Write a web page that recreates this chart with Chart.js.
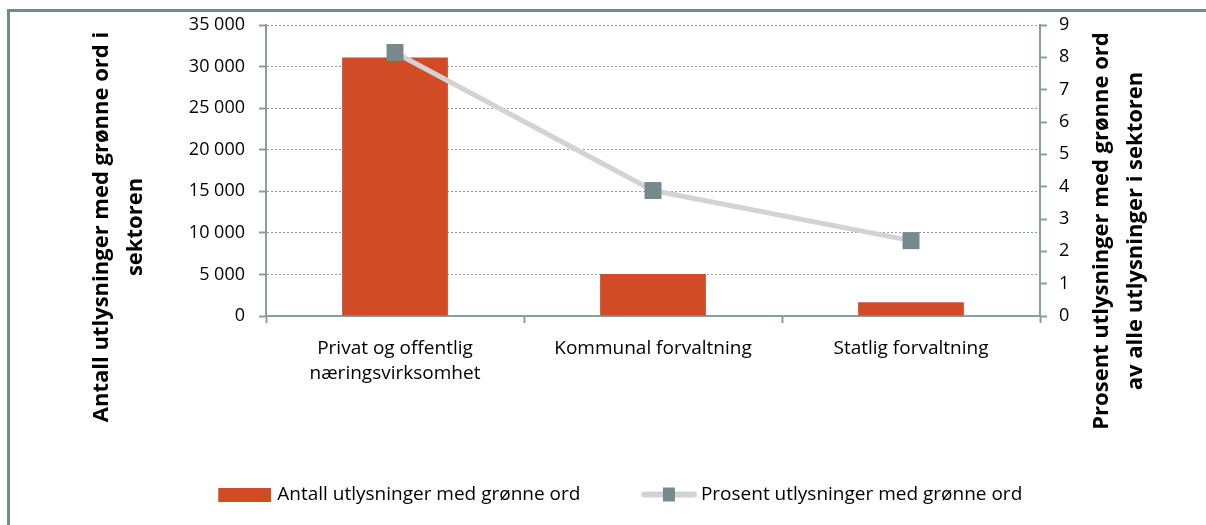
<!DOCTYPE html>
<html>
<head>
<meta charset="utf-8">
<script src="https://cdn.jsdelivr.net/npm/chart.js@4"></script>
<style>
  html, body { margin: 0; padding: 0; background: #fff; }
  #wrap { position: relative; width: 1206px; height: 525px; overflow: hidden; }
  #frame { position: absolute; left: 7px; top: 9px; width: 1300px; height: 700px;
           border: 3px solid #6f8b8f; pointer-events: none; }
</style>
</head>
<body>
<div id="wrap">
  <canvas id="myChart" width="1206" height="525"></canvas>
  <div id="frame"></div>
</div>
<script>
// Data
const categories = [['Privat og offentlig', 'næringsvirksomhet'], 'Kommunal forvaltning', 'Statlig forvaltning'];
const antall = [31100, 5050, 1650];
const prosent = [8.15, 3.88, 2.33];
const antallLabel = 'Antall utlysninger med grønne ord';
const prosentLabel = 'Prosent utlysninger med grønne ord';
const leftTitle = ['Antall utlysninger med grønne ord i', 'sektoren'];
const rightTitle = ['Prosent utlysninger med grønne ord', 'av alle utlysninger i sektoren'];

const FONT = '"Open Sans"';
const axisColor = '#8a9ea1';
const barColor = '#d24b27';
const lineColor = '#d3d3d3';
const markerColor = '#76898c';

// legend swatches (drawn as images so they look like the original)
const LEG_W = 100;
function barSwatch() {
    const c = document.createElement('canvas');
    c.width = LEG_W + 7; c.height = 14;
    const g = c.getContext('2d');
    g.fillStyle = barColor;
    g.fillRect(c.width - 53, 0, 53, 14);
    return c;
}
function lineSwatch() {
    const c = document.createElement('canvas');
    c.width = LEG_W + 11; c.height = 16;
    const g = c.getContext('2d');
    const x0 = c.width - 56;
    g.strokeStyle = lineColor;
    g.lineWidth = 6;
    g.lineCap = 'round';
    g.beginPath(); g.moveTo(x0 + 3, 8); g.lineTo(c.width - 3, 8); g.stroke();
    g.fillStyle = markerColor;
    g.fillRect(x0 + 22, 1, 12, 14);
    return c;
}

// axis titles centred on the whole figure height, like the original
const axisTitles = {
    id: 'axisTitles',
    afterDraw(chart) {
        const ctx = chart.ctx;
        ctx.save();
        ctx.fillStyle = '#000';
        ctx.font = 'bold 22px ' + FONT;
        ctx.textAlign = 'center';
        ctx.textBaseline = 'middle';
        const put = (lines, x0, y, step) => {
            lines.forEach((t, i) => {
                ctx.save();
                ctx.translate(x0 + i * step, y);
                ctx.rotate(-Math.PI / 2);
                ctx.fillText(t, 0, 0);
                ctx.restore();
            });
        };
        put(leftTitle, 102, 227, 34);
        put(rightTitle, 1102, 231, 34);
        ctx.restore();
    }
};

const fmt = v => String(v).replace(/\B(?=(\d{3})+(?!\d))/g, ' ');

var chartArea = document.getElementById('myChart');

const chartContent = new Chart(chartArea, {
    type: 'bar',
    data: {
        labels: categories,
        datasets: [
            {
                type: 'line',
                label: prosentLabel,
                data: prosent,
                yAxisID: 'yPct',
                borderColor: lineColor,
                borderWidth: 5,
                tension: 0,
                pointStyle: 'rect',
                pointRadius: 12,
                pointHoverRadius: 12,
                pointBackgroundColor: markerColor,
                pointBorderWidth: 0
            },
            {
                type: 'bar',
                label: antallLabel,
                data: antall,
                yAxisID: 'y',
                backgroundColor: barColor,
                categoryPercentage: 1,
                barPercentage: 0.41
            }
        ]
    },
    options: {
        responsive: false,
        animation: false,
        layout: { padding: { left: 0, right: 16, top: 25, bottom: 11 } },
        plugins: {
            tooltip: { enabled: false },
            legend: {
                position: 'bottom',
                labels: {
                    usePointStyle: true,
                    pointStyleWidth: LEG_W,
                    padding: 11,
                    color: '#000',
                    font: { family: FONT, size: 19 },
                    generateLabels: () => [
                        { text: antallLabel, pointStyle: barSwatch(), datasetIndex: 1, lineWidth: 0, fontColor: '#000' },
                        { text: prosentLabel, pointStyle: lineSwatch(), datasetIndex: 0, lineWidth: 0, fontColor: '#000' }
                    ]
                }
            }
        },
        scales: {
            x: {
                offset: true,
                grid: { offset: true, drawOnChartArea: false, color: axisColor, tickLength: 7, tickWidth: 2 },
                border: { color: axisColor, width: 2 },
                ticks: { color: '#000', padding: 13, maxRotation: 0, font: { family: FONT, size: 19, lineHeight: 1.33 } },
                afterFit: s => { s.height = 158; }
            },
            y: {
                position: 'left',
                min: 0, max: 35000,
                ticks: { stepSize: 5000, color: '#000', padding: 14, font: { family: FONT, size: 18 }, callback: v => fmt(v) },
                grid: { color: axisColor, tickLength: 7, tickColor: axisColor, tickWidth: 2, tickBorderDash: [] },
                border: { color: axisColor, width: 2, dash: [2, 2] },
                afterFit: s => { s.width = 266; }
            },
            yPct: {
                position: 'right',
                min: 0, max: 9,
                ticks: { stepSize: 1, color: '#000', padding: 12, font: { family: FONT, size: 18 } },
                grid: { drawOnChartArea: false, color: axisColor, tickLength: 7, tickWidth: 2 },
                border: { color: axisColor, width: 2 },
                afterFit: s => { s.width = 150; }
            }
        }
    },
    plugins: [axisTitles]
});
</script>
</body>
</html>
